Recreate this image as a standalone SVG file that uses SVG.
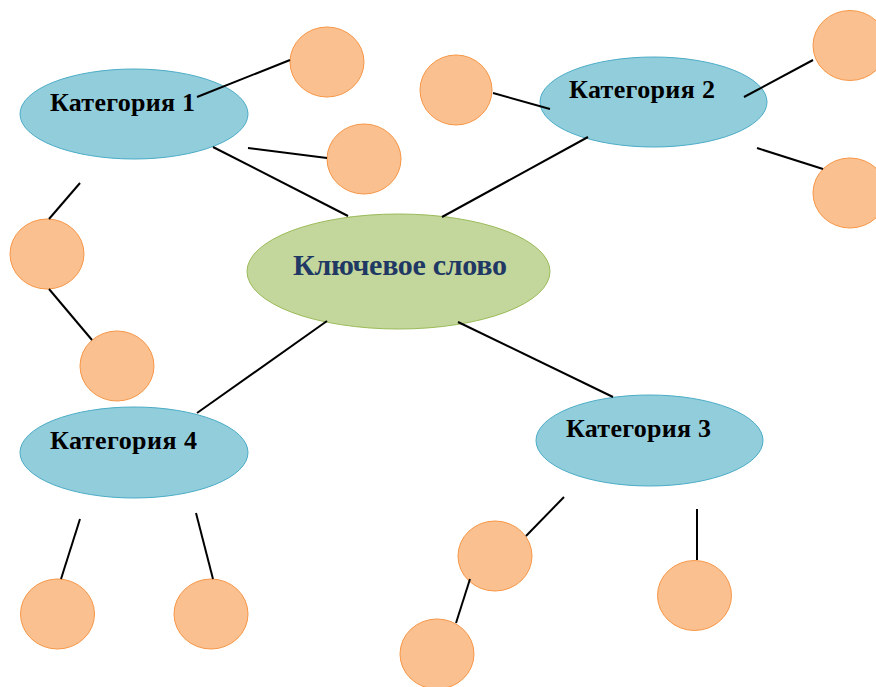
<svg xmlns="http://www.w3.org/2000/svg" width="876" height="687" viewBox="0 0 876 687">
<style>
.cat{fill:#92cddc;stroke:#4bacc6;stroke-width:1}
.key{fill:#c3d69b;stroke:#9bbb59;stroke-width:1}
.leaf{fill:#fac090;stroke:#f79646;stroke-width:1}
text{font-family:'Liberation Serif','Times New Roman','DejaVu Serif',serif;font-weight:bold}
.lbl{font-size:26px;fill:#000}
.klbl{font-size:30px;fill:#1f3864}
#connectors line{stroke:#000;stroke-width:2;stroke-linecap:butt}
</style>
<rect width="876" height="687" fill="#fff"/>
<g id="key"><ellipse class="key" cx="398.5" cy="271.5" rx="151.5" ry="57.5"/><text class="klbl" x="293" y="275" textLength="214">Ключевое слово</text></g>
<g id="cat1"><ellipse class="cat" cx="134" cy="114" rx="114" ry="45"/><text class="lbl" x="50" y="111" textLength="145">Категория 1</text></g>
<g id="cat2"><ellipse class="cat" cx="653.5" cy="102" rx="113.5" ry="45"/><text class="lbl" x="569" y="98" textLength="146">Категория 2</text></g>
<g id="cat3"><ellipse class="cat" cx="649.5" cy="440.5" rx="113.5" ry="45.5"/><text class="lbl" x="566" y="437" textLength="145">Категория 3</text></g>
<g id="cat4"><ellipse class="cat" cx="134" cy="452.5" rx="114" ry="45.5"/><text class="lbl" x="50" y="449" textLength="147">Категория 4</text></g>
<g id="c1"><ellipse class="leaf" cx="327" cy="62" rx="37" ry="35"/></g>
<g id="c2"><ellipse class="leaf" cx="364" cy="159" rx="37" ry="35"/></g>
<g id="c3"><ellipse class="leaf" cx="456" cy="90" rx="36" ry="35"/></g>
<g id="c4"><ellipse class="leaf" cx="850" cy="45.5" rx="37" ry="35"/></g>
<g id="c5"><ellipse class="leaf" cx="850" cy="193" rx="37" ry="35"/></g>
<g id="c6"><ellipse class="leaf" cx="47" cy="254" rx="37" ry="35"/></g>
<g id="c7"><ellipse class="leaf" cx="117" cy="366" rx="37" ry="35"/></g>
<g id="c8"><ellipse class="leaf" cx="57.5" cy="614" rx="37" ry="35"/></g>
<g id="c9"><ellipse class="leaf" cx="211" cy="614" rx="37" ry="35"/></g>
<g id="c10"><ellipse class="leaf" cx="495" cy="556" rx="37" ry="35"/></g>
<g id="c11"><ellipse class="leaf" cx="437" cy="654" rx="37" ry="35"/></g>
<g id="c12"><ellipse class="leaf" cx="694.5" cy="595.5" rx="37" ry="35"/></g>
<g id="connectors">
<line x1="197" y1="97" x2="290" y2="60"/>
<line x1="248" y1="148" x2="327" y2="158"/>
<line x1="213" y1="147" x2="348" y2="216"/>
<line x1="80" y1="183" x2="49" y2="219"/>
<line x1="49" y1="289" x2="92" y2="340"/>
<line x1="493" y1="93" x2="550" y2="109"/>
<line x1="744" y1="97" x2="813" y2="60"/>
<line x1="757" y1="148" x2="823" y2="169"/>
<line x1="588" y1="137" x2="442" y2="217"/>
<line x1="327" y1="321" x2="197" y2="413"/>
<line x1="458" y1="322" x2="613" y2="397"/>
<line x1="80" y1="519" x2="61" y2="579"/>
<line x1="196" y1="513" x2="213" y2="579"/>
<line x1="564" y1="497" x2="526" y2="536"/>
<line x1="470" y1="579" x2="456" y2="623"/>
<line x1="697" y1="509" x2="697" y2="560"/>
</g>
</svg>
